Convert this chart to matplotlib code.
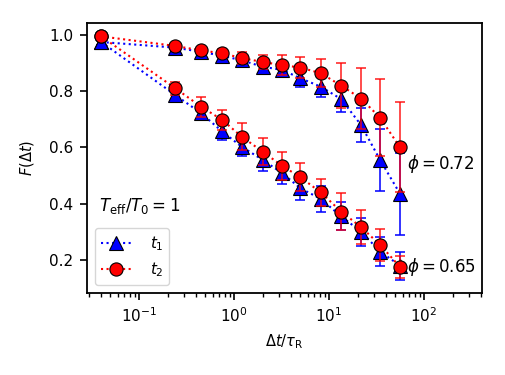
import numpy as np
import matplotlib
matplotlib.use("Agg")
import matplotlib.pyplot as plt

# lag times in units of tau_R
dt = [0.04, 0.24, 0.45, 0.75, 1.2, 2.0, 3.2, 5.0, 8.2, 13.4, 21.7, 34.4, 55.9]

# phi = 0.72
t1_hi = [0.975, 0.955, 0.94, 0.926, 0.91, 0.887, 0.876, 0.846, 0.816, 0.772, 0.68, 0.556, 0.435]
t1_hi_err = [0.01, 0.01, 0.012, 0.015, 0.018, 0.02, 0.025, 0.03, 0.035, 0.045, 0.06, 0.11, 0.145]
t2_hi = [0.995, 0.961, 0.945, 0.935, 0.918, 0.904, 0.893, 0.884, 0.864, 0.82, 0.774, 0.706, 0.60]
t2_hi_err = [0.005, 0.01, 0.012, 0.015, 0.02, 0.025, 0.036, 0.037, 0.05, 0.08, 0.107, 0.138, 0.16]

# phi = 0.65
t1_lo = [0.975, 0.787, 0.722, 0.657, 0.603, 0.556, 0.509, 0.455, 0.417, 0.355, 0.301, 0.23, 0.18]
t1_lo_err = [0.01, 0.015, 0.02, 0.03, 0.035, 0.04, 0.04, 0.04, 0.045, 0.05, 0.05, 0.05, 0.05]
t2_lo = [0.995, 0.811, 0.745, 0.698, 0.639, 0.585, 0.535, 0.494, 0.44, 0.372, 0.317, 0.254, 0.175]
t2_lo_err = [0.005, 0.023, 0.035, 0.036, 0.048, 0.049, 0.05, 0.05, 0.048, 0.065, 0.06, 0.057, 0.04]


def main():
    fig = plt.figure(figsize=(5.06, 3.75), dpi=100)
    ax = fig.add_axes([0.172, 0.219, 0.781, 0.72])

    for y1, e1, y2, e2 in [(t1_hi, t1_hi_err, t2_hi, t2_hi_err),
                           (t1_lo, t1_lo_err, t2_lo, t2_lo_err)]:
        ax.errorbar(dt, y1, yerr=e1, fmt='none', ecolor='b', elinewidth=1.4,
                    capsize=3.5, capthick=1.4, alpha=0.8, zorder=2)
        l1, = ax.plot(dt, y1, ':', color='b', lw=1.5, marker='^', ms=9.5,
                      mfc='b', mec='k', mew=0.8, zorder=3)
        ax.errorbar(dt, y2, yerr=e2, fmt='none', ecolor='r', elinewidth=1.4,
                    capsize=3.5, capthick=1.4, alpha=0.7, zorder=4)
        l2, = ax.plot(dt, y2, ':', color='r', lw=1.5, marker='o', ms=9.5,
                      mfc='r', mec='k', mew=0.8, zorder=5)

    ax.set_xscale('log')
    ax.set_xlim(0.0284, 409)
    ax.set_ylim(0.083, 1.043)
    ax.set_yticks([0.2, 0.4, 0.6, 0.8, 1.0])
    ax.tick_params(labelsize=11, width=1.2, pad=5)
    ax.tick_params(which='major', length=5)
    ax.tick_params(which='minor', length=3, width=1.0)
    for s in ax.spines.values():
        s.set_linewidth(1.3)

    ax.set_xlabel(r'$\Delta t/\tau_\mathrm{R}$', fontsize=10.5, labelpad=5)
    ax.set_ylabel(r'$F(\Delta t)$', fontsize=10.5, labelpad=9)

    ax.text(0.03, 0.32, r'$T_\mathrm{eff}/T_0 = 1$', fontsize=12,
            transform=ax.transAxes, ha='left', va='center')
    ax.text(66, 0.54, r'$\phi = 0.72$', fontsize=12, ha='left', va='center')
    ax.text(66, 0.176, r'$\phi = 0.65$', fontsize=12, ha='left', va='center')

    ax.legend([l1, l2], [r'$t_1$', r'$t_2$'], loc='lower left', fontsize=11,
              bbox_to_anchor=(0.0, 0.0), handletextpad=1.2)

    fig.savefig('out.png', dpi=100)
    return 0


if __name__ == "__main__":
    main()
